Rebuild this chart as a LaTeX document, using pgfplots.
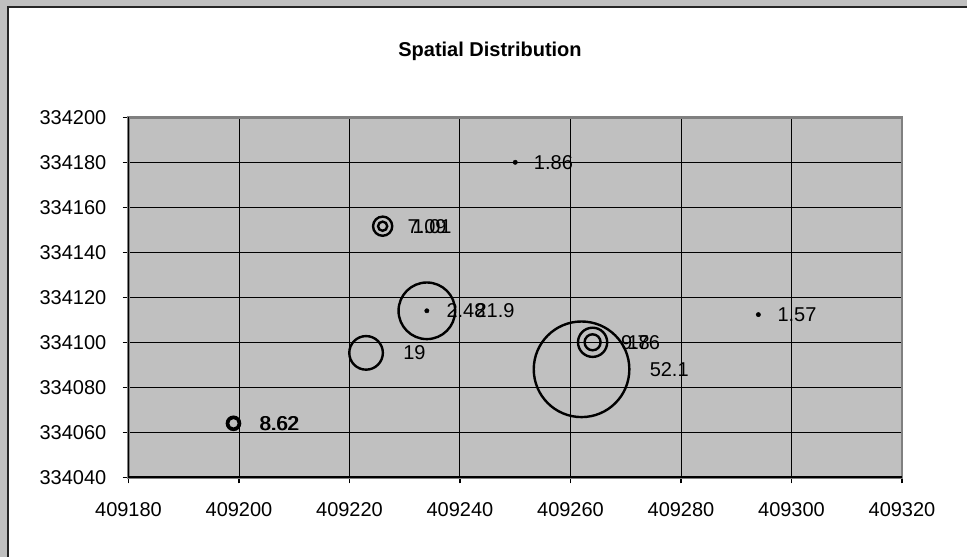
\documentclass[border=0pt]{standalone}
\usepackage{fontspec}
\setmainfont{Liberation Sans}
\usepackage{pgfplots}
\pgfplotsset{compat=1.18}
\definecolor{bg}{HTML}{C0C0C0}
\definecolor{axgray}{HTML}{808080}
\newcommand\lbl{\fontsize{20pt}{24pt}\selectfont}
\pgfplotsset{
  bub/.style n args={3}{only marks, mark=o, mark size=#1pt,
    mark options={line width=2.4pt, draw=black, fill=none},
    nodes near coords={#3},
    every node near coord/.append style={anchor=west, inner sep=0pt, xshift=#2pt, font=\lbl, text=black}},
  dot/.style 2 args={only marks, mark=*, mark size=2.2pt,
    mark options={draw=black, fill=black, line width=0.4pt},
    nodes near coords={#2},
    every node near coord/.append style={anchor=west, inner sep=0pt, xshift=#1pt, font=\lbl, text=black}},
}
\begin{document}
\begin{tikzpicture}[x=1pt,y=1pt]
\path[use as bounding box] (0,0) rectangle (967,557);
\fill[bg] (0,0) rectangle (967,557);
\fill[white] (7.5,0) rectangle (967,549.5);
\draw[black!85, line width=2pt] (7.5,0) -- (7.5,549.5) -- (967,549.5);
\node[font=\lbl\bfseries, anchor=base] at (490,500) {Spatial Distribution};
\begin{axis}[
  at={(128.5pt,79.7pt)}, anchor=south west,
  scale only axis, width=773.5pt, height=360pt,
  xmin=409180, xmax=409320, ymin=334040, ymax=334200,
  scaled ticks=false,
  xtick={409180,409200,409220,409240,409260,409280,409300,409320},
  xticklabels={409180,409200,409220,409240,409260,409280,409300,409320},
  ytick={334040,334060,334080,334100,334120,334140,334160,334180,334200},
  yticklabels={334040,334060,334080,334100,334120,334140,334160,334180,334200},
  grid=major,
  major grid style={draw=black, line width=1pt},
  axis background/.style={fill=bg},
  axis line style={draw=axgray, line width=2.6pt},
  tick align=outside, xtick pos=left, ytick pos=left,
  major tick length=6pt,
  tick style={draw=black, line width=1.2pt},
  xticklabel style={font=\lbl, inner sep=0pt, yshift=-19pt},
  yticklabel style={font=\lbl, inner sep=0pt, xshift=-16pt},
  extra description/.code={\draw[black, line width=1.6pt] (rel axis cs:0,1) -- (rel axis cs:0,0) -- (rel axis cs:1,0);},
]
\addplot[bub={5.5}{24.7}{8.62}] coordinates {(409199,334064)};
\addplot[bub={6.6}{25.8}{8.62}] coordinates {(409199,334064)};
\addplot[bub={16.8}{36.0}{19}] coordinates {(409223,334095.3)};
\addplot[bub={28.3}{47.5}{21.9}] coordinates {(409234,334114)};
\addplot[dot={19.5}{2.48}] coordinates {(409234,334114)};
\addplot[bub={4.6}{23.8}{7.09}] coordinates {(409226,334151.6)};
\addplot[bub={9.6}{28.8}{1.01}] coordinates {(409226,334151.6)};
\addplot[dot={18.5}{1.86}] coordinates {(409250,334180)};
\addplot[bub={47.8}{67.0}{52.1}] coordinates {(409262,334088)};
\addplot[bub={8.0}{27.2}{9.76}] coordinates {(409264,334100)};
\addplot[bub={14.6}{33.8}{18}] coordinates {(409264,334100)};
\addplot[dot={19.0}{1.57}] coordinates {(409294,334112.3)};
\end{axis}
\end{tikzpicture}
\end{document}
